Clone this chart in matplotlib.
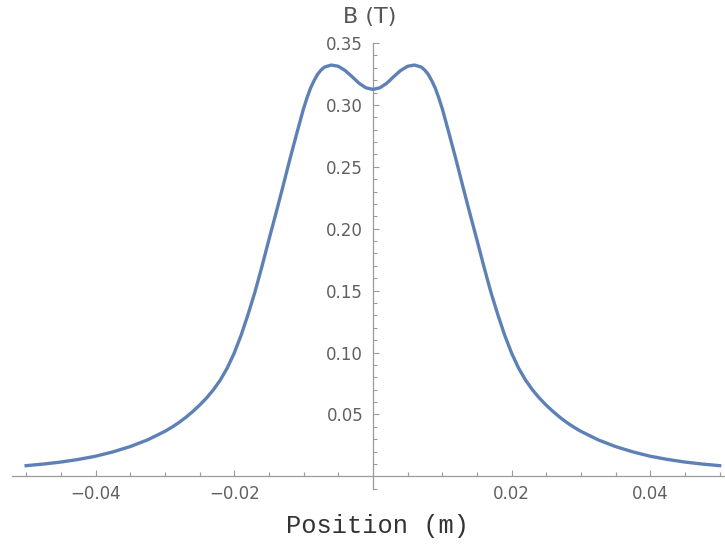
import matplotlib
matplotlib.use("Agg")
import matplotlib.pyplot as plt

# Data (position in m, field in T)
position = [-0.050, -0.0475, -0.045, -0.0425, -0.040, -0.0375, -0.035, -0.0325,
            -0.030, -0.029, -0.028, -0.027, -0.026, -0.025, -0.024, -0.023, -0.022,
            -0.021, -0.020, -0.019, -0.018, -0.017, -0.016, -0.015, -0.014, -0.013,
            -0.012, -0.011, -0.0105, -0.010, -0.0095, -0.009, -0.0085, -0.008,
            -0.0075, -0.007, -0.006, -0.005, -0.004, -0.003, -0.002, -0.001,
            0.000,
            0.001, 0.002, 0.003, 0.004, 0.005, 0.006, 0.007, 0.0075, 0.008, 0.0085,
            0.009, 0.0095, 0.010, 0.0105, 0.011, 0.012, 0.013, 0.014, 0.015, 0.016,
            0.017, 0.018, 0.019, 0.020, 0.021, 0.022, 0.023, 0.024, 0.025, 0.026,
            0.027, 0.028, 0.029, 0.030, 0.0325, 0.035, 0.0375, 0.040, 0.0425, 0.045,
            0.0475, 0.050]
field = [0.0086, 0.0099, 0.0115, 0.0136, 0.0162, 0.0197, 0.0240, 0.0294,
         0.0363, 0.0396, 0.0433, 0.0475, 0.0522, 0.0574, 0.0632, 0.0699, 0.0778,
         0.0875, 0.0995, 0.1140, 0.1308, 0.1490, 0.1695, 0.1910, 0.2120, 0.2335,
         0.2555, 0.2765, 0.2868, 0.2970, 0.3057, 0.3135, 0.3194, 0.3245,
         0.3280, 0.3305, 0.3322, 0.3312, 0.3278, 0.3228, 0.3175, 0.3138,
         0.3125,
         0.3138, 0.3175, 0.3228, 0.3278, 0.3312, 0.3322, 0.3305, 0.3280, 0.3245, 0.3194,
         0.3135, 0.3057, 0.2970, 0.2868, 0.2765, 0.2555, 0.2335, 0.2120, 0.1910, 0.1695,
         0.1490, 0.1308, 0.1140, 0.0995, 0.0875, 0.0778, 0.0699, 0.0632, 0.0574, 0.0522,
         0.0475, 0.0433, 0.0396, 0.0363, 0.0294, 0.0240, 0.0197, 0.0162, 0.0136, 0.0115,
         0.0099, 0.0086]

x_major = [-0.04, -0.02, 0.02, 0.04]
x_major_labels = ["\u22120.04", "\u22120.02", "0.02", "0.04"]
y_major = [0.05, 0.10, 0.15, 0.20, 0.25, 0.30, 0.35]
y_major_labels = ["0.05", "0.10", "0.15", "0.20", "0.25", "0.30", "0.35"]
x_minor = [-0.05, -0.045, -0.035, -0.03, -0.025, -0.015, -0.01, -0.005,
           0.005, 0.01, 0.015, 0.025, 0.03, 0.035, 0.045, 0.05]
y_minor = [-0.01, 0.01, 0.02, 0.03, 0.04, 0.06, 0.07, 0.08, 0.09, 0.11, 0.12, 0.13,
           0.14, 0.16, 0.17, 0.18, 0.19, 0.21, 0.22, 0.23, 0.24, 0.26, 0.27, 0.28,
           0.29, 0.31, 0.32, 0.33, 0.34]

W, H = 725, 544
fig = plt.figure(figsize=(W / 100, H / 100), dpi=100)
ax = fig.add_axes([0, 0, 1, 1])

# pixel geometry of the reference
x0_px, y0_px = 372.9, 476.3
xs, ys = 6935.0, 1238.0
ax.set_xlim(-x0_px / xs, (W - x0_px) / xs)
ax.set_ylim(-(H - y0_px) / ys, y0_px / ys)

ax.plot(position, field, color="#5E81B5", lw=2.4, solid_joinstyle="round", zorder=3)

axis_col = "#9a9a9a"
for s in ["top", "right"]:
    ax.spines[s].set_visible(False)
ax.spines["left"].set_position(("data", 0))
ax.spines["bottom"].set_position(("data", 0))
for s in ["left", "bottom"]:
    ax.spines[s].set_color(axis_col)
    ax.spines[s].set_linewidth(0.9)
ax.spines["bottom"].set_bounds(-(x0_px - 11.7) / xs, (W - x0_px) / xs)
ax.spines["left"].set_bounds(-(489.3 - y0_px) / ys, 0.35)

ax.set_xticks(x_major)
ax.set_xticklabels(x_major_labels)
ax.set_xticks(x_minor, minor=True)
ax.set_yticks(y_major)
ax.set_yticklabels(y_major_labels)
ax.set_yticks(y_minor, minor=True)

lab_col = "#606060"
ax.tick_params(which="both", direction="in", color=axis_col, width=0.8,
               labelsize=12, labelcolor=lab_col)
ax.tick_params(which="major", length=4.2)
ax.tick_params(which="minor", length=2.6)
ax.tick_params(axis="y", which="major", pad=7)
ax.tick_params(axis="x", which="major", pad=6)

ax.patch.set_alpha(0)
fig.text(370 / W, 1 - 17 / H, "B (T)", fontsize=16, color="#555555",
         ha="center", va="center")
fig.text(378 / W, 1 - 526 / H, "Position (m)", fontsize=18.3, color="#333333",
         family="Liberation Mono", ha="center", va="center")

fig.savefig("out.png", dpi=100)
